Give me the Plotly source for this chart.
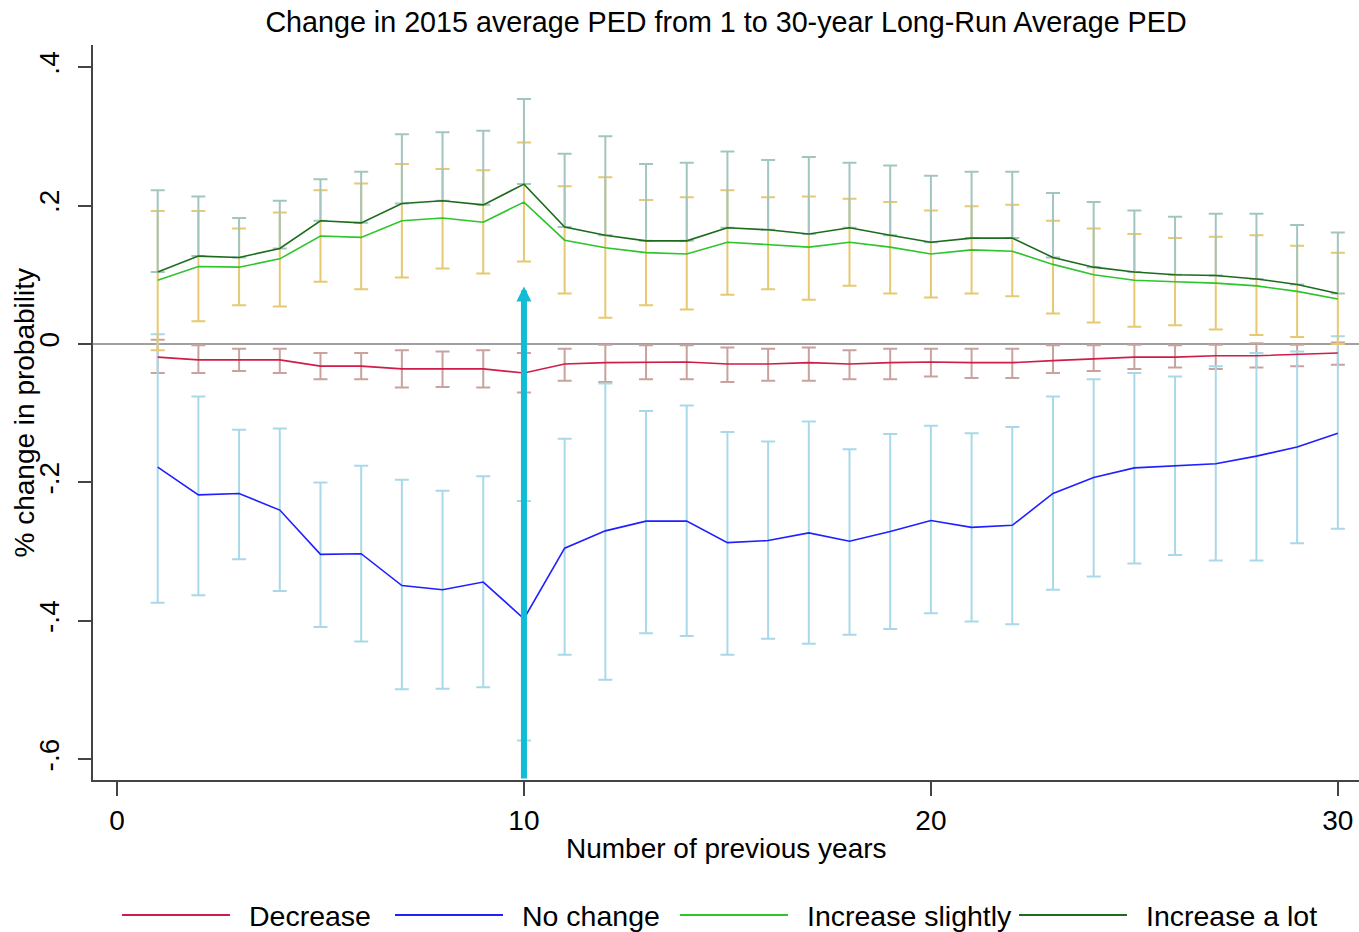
import plotly.graph_objects as go

# ---------------- data ----------------
years = list(range(1, 31))

decrease = [-0.019, -0.023, -0.023, -0.023, -0.032, -0.032, -0.036, -0.036, -0.036, -0.042,
            -0.029, -0.027, -0.026, -0.026, -0.029, -0.029, -0.027, -0.029, -0.027, -0.026,
            -0.027, -0.027, -0.024, -0.022, -0.019, -0.019, -0.017, -0.017, -0.015, -0.013]
decrease_hi = [0.006, -0.002, -0.007, -0.007, -0.013, -0.013, -0.009, -0.011, -0.009, -0.013,
               -0.007, -0.001, -0.002, -0.002, -0.005, -0.007, -0.005, -0.009, -0.007, -0.007,
               -0.007, -0.007, -0.002, -0.002, -0.001, -0.002, -0.001, 0.001, -0.001, 0.002]
decrease_lo = [-0.042, -0.042, -0.039, -0.042, -0.051, -0.051, -0.063, -0.062, -0.063, -0.070,
               -0.053, -0.055, -0.051, -0.051, -0.055, -0.053, -0.053, -0.051, -0.051, -0.047,
               -0.049, -0.049, -0.042, -0.039, -0.036, -0.034, -0.036, -0.034, -0.032, -0.030]

no_change = [-0.178, -0.218, -0.216, -0.240, -0.304, -0.303, -0.349, -0.355, -0.344, -0.397,
             -0.295, -0.270, -0.256, -0.256, -0.287, -0.284, -0.273, -0.285, -0.271, -0.255,
             -0.265, -0.262, -0.216, -0.193, -0.179, -0.176, -0.173, -0.162, -0.149, -0.129]
no_change_hi = [0.014, -0.076, -0.124, -0.122, -0.200, -0.176, -0.196, -0.212, -0.191, -0.227,
                -0.137, -0.057, -0.097, -0.089, -0.127, -0.141, -0.112, -0.152, -0.130, -0.118,
                -0.129, -0.120, -0.076, -0.051, -0.042, -0.047, -0.032, -0.013, -0.011, 0.011]
no_change_lo = [-0.374, -0.363, -0.311, -0.357, -0.409, -0.430, -0.499, -0.498, -0.496, -0.573,
                -0.449, -0.485, -0.418, -0.422, -0.449, -0.426, -0.433, -0.420, -0.412, -0.389,
                -0.401, -0.405, -0.355, -0.336, -0.317, -0.305, -0.313, -0.313, -0.288, -0.267]

inc_slight = [0.092, 0.112, 0.111, 0.123, 0.156, 0.154, 0.178, 0.182, 0.176, 0.205,
              0.150, 0.139, 0.132, 0.130, 0.147, 0.144, 0.140, 0.147, 0.140, 0.130,
              0.136, 0.134, 0.115, 0.100, 0.092, 0.090, 0.088, 0.084, 0.076, 0.065]
inc_slight_hi = [0.192, 0.192, 0.167, 0.190, 0.222, 0.232, 0.260, 0.253, 0.251, 0.291,
                 0.228, 0.241, 0.208, 0.212, 0.222, 0.212, 0.213, 0.210, 0.205, 0.193,
                 0.199, 0.201, 0.178, 0.167, 0.159, 0.153, 0.155, 0.157, 0.142, 0.132]
inc_slight_lo = [-0.009, 0.033, 0.056, 0.054, 0.090, 0.079, 0.096, 0.109, 0.102, 0.119,
                 0.073, 0.038, 0.056, 0.050, 0.071, 0.079, 0.064, 0.084, 0.073, 0.067,
                 0.073, 0.069, 0.044, 0.031, 0.025, 0.027, 0.021, 0.013, 0.010, 0.000]

inc_lot = [0.104, 0.127, 0.125, 0.138, 0.178, 0.175, 0.203, 0.207, 0.201, 0.231,
           0.169, 0.157, 0.149, 0.149, 0.168, 0.165, 0.159, 0.168, 0.157, 0.147,
           0.153, 0.153, 0.125, 0.111, 0.104, 0.100, 0.099, 0.094, 0.086, 0.073]
inc_lot_hi = [0.222, 0.213, 0.182, 0.207, 0.238, 0.249, 0.303, 0.306, 0.308, 0.354,
              0.275, 0.300, 0.260, 0.262, 0.278, 0.266, 0.270, 0.262, 0.258, 0.243,
              0.249, 0.249, 0.218, 0.205, 0.193, 0.184, 0.188, 0.188, 0.172, 0.161]

series_names = ["Decrease", "No change", "Increase slightly", "Increase a lot"]
x_tickvals = [0, 10, 20, 30]
y_tickvals = [-0.6, -0.4, -0.2, 0, 0.2, 0.4]
y_ticktext = ["-.6", "-.4", "-.2", "0", ".2", ".4"]
highlight_year = 10
highlight_tip = 0.083

title_text = "Change in 2015 average PED from 1 to 30-year Long-Run Average PED"
x_title = "Number of previous years"
y_title = "% change in probability"

# ---------------- styling ----------------
FONT = "Liberation Sans, Arial, sans-serif"
line_colors = ["#d01c48", "#1f1fff", "#2cc52c", "#1d6b1d"]
bar_colors = ["#c9a29d", "#a9d9e8", "#e6c970", "#a3c5c0"]
arrow_color = "#12bcd4"
axis_color = "#444444"

X_RANGE = [-0.59, 30.52]
Y_RANGE = [-0.630, 0.432]

fig = go.Figure()


def bar_trace(lo, hi, color):
    mid = [(a + b) / 2 for a, b in zip(lo, hi)]
    half = [(b - a) / 2 for a, b in zip(lo, hi)]
    return go.Scatter(
        x=years, y=mid, mode="markers",
        marker=dict(size=1, color="rgba(0,0,0,0)"),
        error_y=dict(type="data", array=half, symmetric=True,
                     color=color, thickness=2, width=7),
        showlegend=False, hoverinfo="skip",
    )


fig.add_trace(bar_trace(decrease_lo, decrease_hi, bar_colors[0]))
fig.add_trace(bar_trace(no_change_lo, no_change_hi, bar_colors[1]))
fig.add_trace(bar_trace(inc_slight_lo, inc_slight_hi, bar_colors[2]))
# "Increase a lot" intervals drawn from the estimate upward only
fig.add_trace(go.Scatter(
    x=years, y=inc_lot, mode="markers",
    marker=dict(size=1, color="rgba(0,0,0,0)"),
    error_y=dict(type="data", symmetric=False,
                 array=[h - v for h, v in zip(inc_lot_hi, inc_lot)],
                 arrayminus=[0] * len(inc_lot),
                 color=bar_colors[3], thickness=2, width=7),
    showlegend=False, hoverinfo="skip",
))

for name, vals, col in zip(series_names,
                           [decrease, no_change, inc_slight, inc_lot],
                           line_colors):
    fig.add_trace(go.Scatter(x=years, y=vals, mode="lines", name=name,
                             line=dict(color=col, width=1.6),
                             showlegend=False))

# ---------------- manual legend (long line samples like the original) ----------------
PLOT_L, PLOT_W = 93, 1266
PLOT_B, PLOT_H = 780, 735


def px_x(p):
    return (p - PLOT_L) / PLOT_W


def px_y(p):
    return (PLOT_B - p) / PLOT_H


legend_line_start = [122, 395, 680, 1019]
legend_line_len = 108
legend_text_gap = 17
legend_y = 916
shapes = []
annotations = []
for name, col, x0 in zip(series_names, line_colors, legend_line_start):
    shapes.append(dict(type="line", xref="paper", yref="paper",
                       x0=px_x(x0), x1=px_x(x0 + legend_line_len),
                       y0=px_y(legend_y - 1), y1=px_y(legend_y - 1),
                       line=dict(color=col, width=2)))
    annotations.append(dict(xref="paper", yref="paper",
                            x=px_x(x0 + legend_line_len + legend_text_gap),
                            y=px_y(legend_y), xanchor="left", yanchor="middle",
                            text=name, showarrow=False,
                            font=dict(family=FONT, size=28.5, color="#000000")))

# axis titles
annotations.append(dict(xref="paper", yref="paper", x=0.5, y=px_y(848),
                        xanchor="center", yanchor="middle", text=x_title,
                        showarrow=False, font=dict(family=FONT, size=28, color="#000")))
annotations.append(dict(xref="paper", yref="paper", x=px_x(24), y=0.5,
                        xanchor="center", yanchor="middle", text=y_title,
                        textangle=-90, showarrow=False,
                        font=dict(family=FONT, size=28, color="#000")))

# highlight arrow
annotations.append(dict(x=highlight_year, y=highlight_tip, xref="x", yref="y",
                        ax=highlight_year, ay=Y_RANGE[0], axref="x", ayref="y",
                        text="", showarrow=True, arrowhead=2, arrowsize=0.5,
                        arrowwidth=6, arrowcolor=arrow_color, standoff=0))

fig.update_layout(
    width=1359, height=932,
    margin=dict(l=PLOT_L, r=0, t=45, b=932 - PLOT_B, pad=0),
    paper_bgcolor="white", plot_bgcolor="white",
    font=dict(family=FONT, size=28, color="#000"),
    title=dict(text=title_text, x=0.5, xref="paper", xanchor="center",
               y=1 - 22 / 932, yref="container", yanchor="middle",
               font=dict(family=FONT, size=28.7, color="#000")),
    shapes=shapes,
    annotations=annotations,
    showlegend=False,
)
fig.update_xaxes(range=X_RANGE, tickvals=x_tickvals,
                 ticktext=[str(v) for v in x_tickvals],
                 showgrid=False, zeroline=False,
                 showline=True, linecolor=axis_color, linewidth=2,
                 ticks="outside", ticklen=14, tickwidth=1.5, tickcolor=axis_color,
                 tickfont=dict(family=FONT, size=28, color="#000"),
                 ticklabelstandoff=0)
fig.update_yaxes(range=Y_RANGE, tickvals=y_tickvals, ticktext=y_ticktext,
                 tickangle=-90, showgrid=False,
                 zeroline=True, zerolinecolor="#a0a0a0", zerolinewidth=1.5,
                 showline=True, linecolor=axis_color, linewidth=2,
                 ticks="outside", ticklen=13, tickwidth=1.5, tickcolor=axis_color,
                 tickfont=dict(family=FONT, size=28, color="#000"),
                 ticklabelstandoff=8)

fig.write_html("out.html")
